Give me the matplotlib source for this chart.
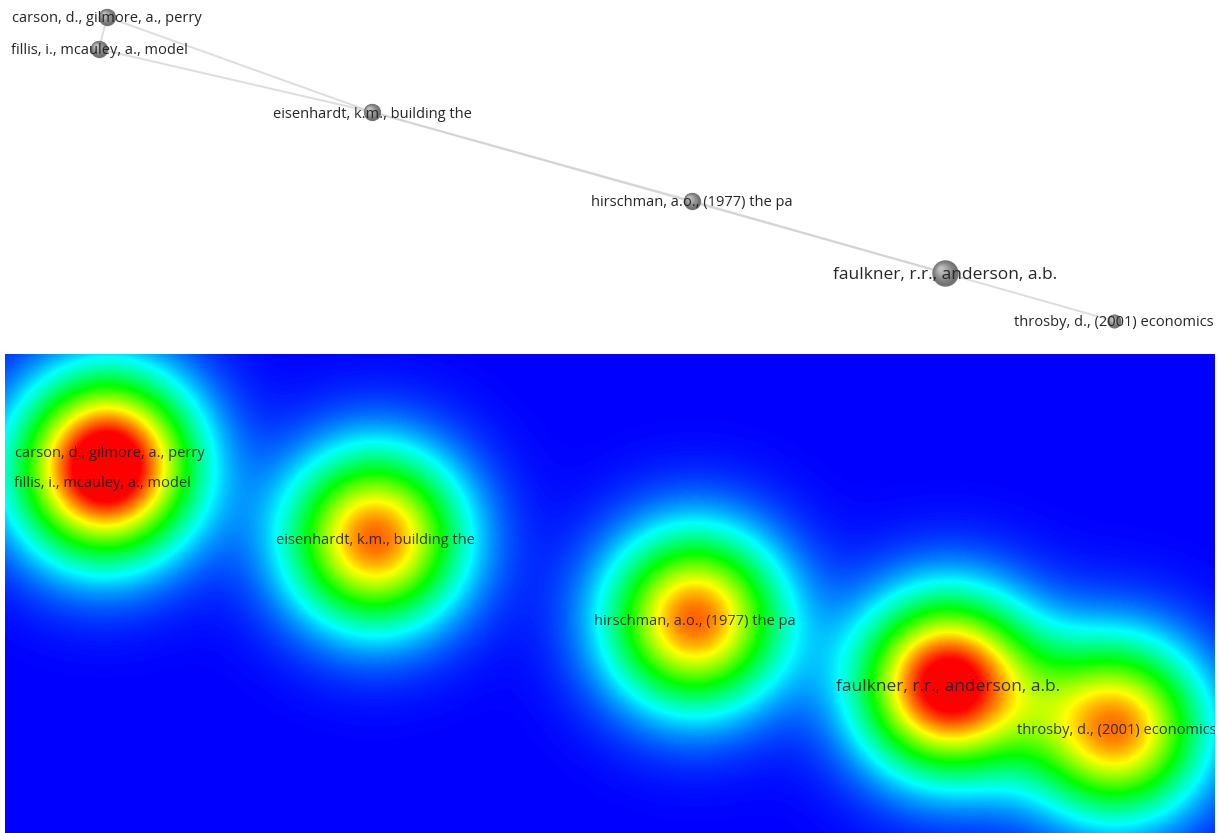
import numpy as np
import matplotlib
matplotlib.use("Agg")
import matplotlib.pyplot as plt
from matplotlib.colors import LinearSegmentedColormap

# ---------------- data ----------------
labels = [
    "carson, d., gilmore, a., perry",
    "fillis, i., mcauley, a., model",
    "eisenhardt, k.m., building the",
    "hirschman, a.o., (1977) the pa",
    "faulkner, r.r., anderson, a.b.",
    "throsby, d., (2001) economics",
]
pos_x = [1.07, 0.99, 3.72, 6.92, 9.45, 11.14]
pos_y = [-0.17, -0.49, -1.12, -2.01, -2.73, -3.21]
citations = [3, 3, 3, 3, 7, 2]          # node size
density_weight = [0.60, 0.60, 0.90, 0.90, 1.08, 0.87]
label_size = [10.5, 10.5, 10.5, 10.5, 12.5, 10.5]
edges = [(0, 1), (0, 2), (1, 2), (2, 3), (2, 4), (3, 4), (4, 5)]

plt.rcParams['font.family'] = ['Open Sans', 'DejaVu Sans']

W, H = 1219, 833
fig = plt.figure(figsize=(W / 100, H / 100), dpi=100)
fig.patch.set_facecolor('white')

# ---------------- top: network ----------------
top_h = 345
ax = fig.add_axes([0, 1 - top_h / H, 1, top_h / H])
ax.set_xlim(0, W / 100)
ax.set_ylim(-top_h / 100, 0)
ax.axis('off')

for a, b in edges:
    ax.plot([pos_x[a], pos_x[b]], [pos_y[a], pos_y[b]], color='#cfcfcf',
            lw=1.4, alpha=0.7, solid_capstyle='round', zorder=1)

dark = np.array([0.42, 0.42, 0.42])
light = np.array([0.78, 0.78, 0.78])
n_layers = 12
for i, (x, y) in enumerate(zip(pos_x, pos_y)):
    r_px = 5.0 * np.sqrt(citations[i])
    for k in range(n_layers):
        f = k / n_layers
        rr = r_px * (1 - 0.85 * f)
        col = dark + (light - dark) * f ** 1.1
        off = r_px * 0.35 * f / 100.0
        d_pt = 2 * rr * 0.72
        ax.scatter([x - off], [y + off], s=d_pt ** 2, color=col, lw=0,
                   alpha=0.9, zorder=2)

for i, (x, y) in enumerate(zip(pos_x, pos_y)):
    ax.text(x, y, labels[i], ha='center', va='center_baseline',
            fontsize=label_size[i], color='#262626', zorder=3)

# ---------------- bottom: density ----------------
bx0, bx1 = 5, 1215
by0, by1 = 354, 833
axb = fig.add_axes([bx0 / W, 1 - by1 / H, (bx1 - bx0) / W, (by1 - by0) / H])
x_lo, x_hi = (bx0 - 3) / 100, (bx1 - 3) / 100
y_hi, y_lo = (436.5 - by0) / 91, (436.5 - by1) / 91
axb.set_xlim(x_lo, x_hi)
axb.set_ylim(y_lo, y_hi)
axb.axis('off')

gx = np.linspace(x_lo, x_hi, bx1 - bx0)
gy = np.linspace(y_lo, y_hi, by1 - by0)
GX, GY = np.meshgrid(gx, gy)
sx, sy = 0.61, 61 / 91
D = np.zeros_like(GX)
for x, y, w in zip(pos_x, pos_y, density_weight):
    D += w * np.exp(-((GX - x) ** 2 / (2 * sx ** 2) + (GY - y) ** 2 / (2 * sy ** 2)))

cmap = LinearSegmentedColormap.from_list('vos', [
    (0.00, '#0000ff'), (0.25, '#00ffff'), (0.50, '#00ff00'),
    (0.75, '#ffff00'), (1.00, '#ff0000')])
axb.imshow(D, extent=[x_lo, x_hi, y_lo, y_hi], origin='lower', cmap=cmap,
           vmin=0, vmax=1, aspect='auto', interpolation='bilinear', zorder=0)

for i, (x, y) in enumerate(zip(pos_x, pos_y)):
    axb.text(x, y, labels[i], ha='center', va='center_baseline',
             fontsize=label_size[i], color='#1a1a1a', alpha=0.85, zorder=3,
             clip_on=True)

fig.savefig('out.png', dpi=100, facecolor='white')
